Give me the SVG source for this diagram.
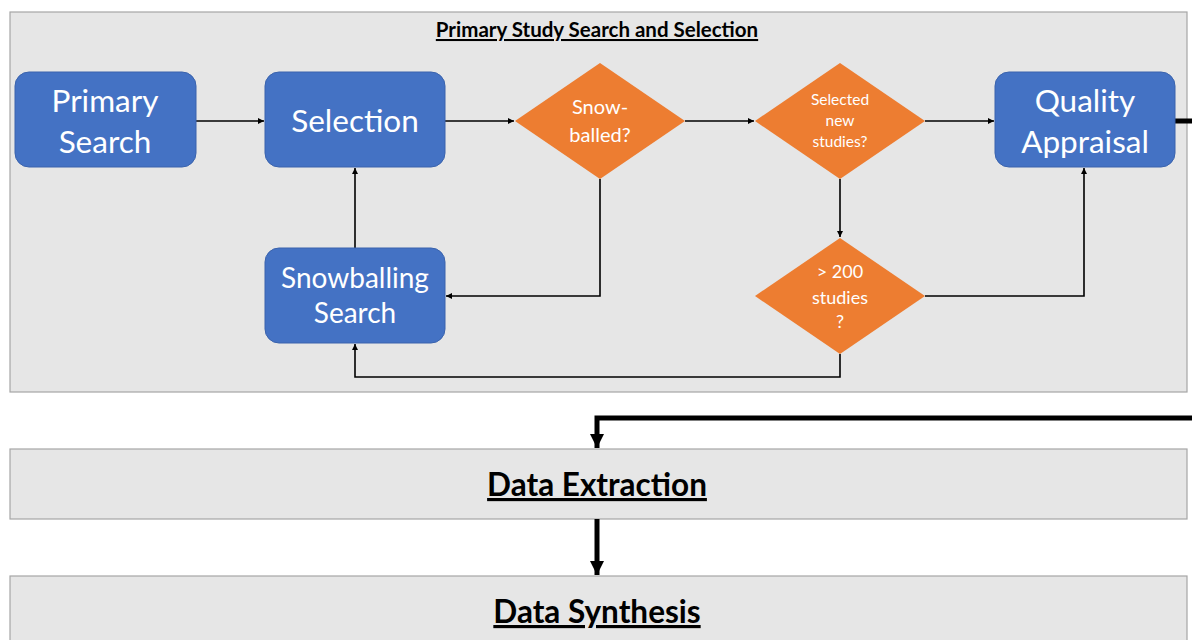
<svg xmlns="http://www.w3.org/2000/svg" width="1192" height="640" viewBox="0 0 1192 640">
<defs>
<style>
.panel{fill:#e6e6e6;stroke:#a6a6a6;stroke-width:1.2}
.box{fill:#4472c4;stroke:#3a63ad;stroke-width:1}
.dia{fill:#ed7d31}
.wt{fill:#fff;font-family:Lato,"Open Sans",sans-serif;text-anchor:middle}
.big{font-size:31.5px}
.ttl{font-family:Lato,"Liberation Sans",sans-serif;font-weight:bold;text-anchor:middle;text-decoration:underline;fill:#000}
.thin{fill:none;stroke:#000;stroke-width:1.6;marker-end:url(#a)}
.thick{fill:none;stroke:#000;stroke-width:5;marker-end:url(#b)}
</style>
<marker id="a" viewBox="0 0 10 10" refX="10" refY="5" markerWidth="6" markerHeight="6" markerUnits="userSpaceOnUse" orient="auto"><path d="M0,0L10,5L0,10z" fill="#000"/></marker>
<marker id="b" viewBox="0 0 10 10" refX="10" refY="5" markerWidth="16" markerHeight="14" markerUnits="userSpaceOnUse" orient="auto"><path d="M0,0L10,5L0,10z" fill="#000"/></marker>
</defs>
<rect width="1192" height="640" fill="#fff"/>
<g id="panel-search">
<rect class="panel" x="10" y="12" width="1177" height="380"/>
<text class="ttl" x="597" y="37" font-size="20.5">Primary Study Search and Selection</text>
</g>
<g id="panel-extraction">
<rect class="panel" x="10" y="449" width="1177" height="70"/>
<text class="ttl" x="597" y="496" font-size="31.5">Data Extraction</text>
</g>
<g id="panel-synthesis">
<rect class="panel" x="10" y="576" width="1177" height="70"/>
<text class="ttl" x="597" y="623" font-size="31.5">Data Synthesis</text>
</g>
<g id="connectors">
<path class="thin" d="M196,121H264"/>
<path class="thin" d="M445,121H514"/>
<path class="thin" d="M685,121H754"/>
<path class="thin" d="M925,121H994"/>
<path class="thin" d="M600,179V296H446"/>
<path class="thin" d="M840,179V237"/>
<path class="thin" d="M925,296H1084V168"/>
<path class="thin" d="M840,354V377H355V344"/>
<path class="thin" d="M355,248V168"/>
<path class="thick" d="M1175,121H1200V418H597V448"/>
<path class="thick" d="M597,519V575"/>
</g>
<g id="primary-search">
<rect class="box" x="15" y="72" width="181" height="95" rx="14"/>
<text class="wt big" x="105" y="112">Primary</text>
<text class="wt big" x="105" y="153">Search</text>
</g>
<g id="selection">
<rect class="box" x="265" y="72" width="180" height="95" rx="14"/>
<text class="wt big" x="355" y="132">Selection</text>
</g>
<g id="snowballed">
<path class="dia" d="M600,63L685,121L600,179L515,121z"/>
<text class="wt" x="600" y="114" font-size="20">Snow-</text>
<text class="wt" x="600" y="142" font-size="20">balled?</text>
</g>
<g id="selected-new">
<path class="dia" d="M840,63L925,121L840,179L755,121z"/>
<text class="wt" x="840" y="105" font-size="15.5">Selected</text>
<text class="wt" x="840" y="126" font-size="15.5">new</text>
<text class="wt" x="840" y="147" font-size="15.5">studies?</text>
</g>
<g id="quality-appraisal">
<rect class="box" x="995" y="72" width="180" height="95" rx="14"/>
<text class="wt big" x="1085" y="112">Quality</text>
<text class="wt big" x="1085" y="153">Appraisal</text>
</g>
<g id="snowballing-search">
<rect class="box" x="265" y="248" width="180" height="95" rx="14"/>
<text class="wt" x="355" y="288" font-size="28">Snowballing</text>
<text class="wt" x="355" y="323" font-size="28">Search</text>
</g>
<g id="over-200">
<path class="dia" d="M840,238L925,296L840,354L755,296z"/>
<text class="wt" x="840" y="278" font-size="18">&gt; 200</text>
<text class="wt" x="840" y="304" font-size="18">studies</text>
<text class="wt" x="840" y="328" font-size="18">?</text>
</g>
</svg>
